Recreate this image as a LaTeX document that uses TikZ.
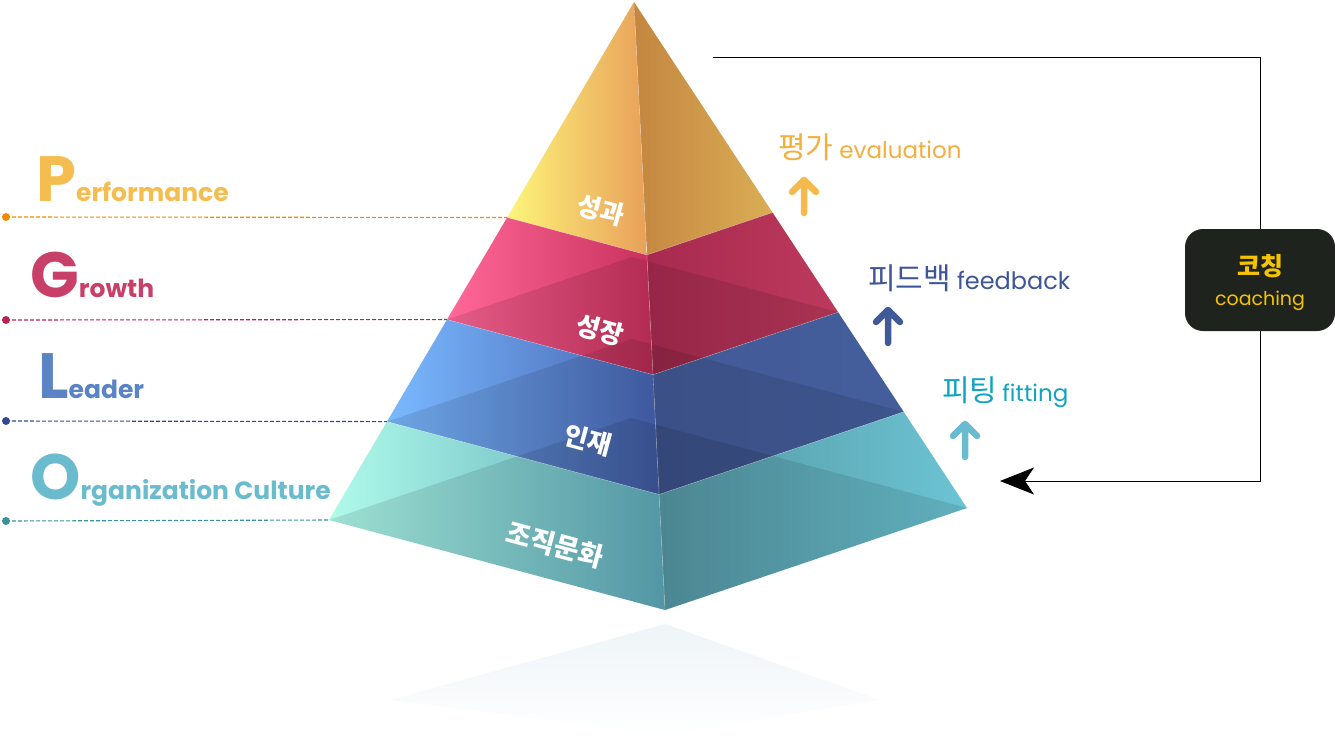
\documentclass[tikz,border=0pt]{standalone}
\usepackage{fontspec}
\setmainfont{Poppins}
\newfontfamily\kr{Noto Sans CJK KR}
\usetikzlibrary{arrows.meta,calc}
\definecolor{cP}{HTML}{F5BD4F}
\definecolor{cG}{HTML}{C8406A}
\definecolor{cL}{HTML}{5B84C4}
\definecolor{cO}{HTML}{6BBBCF}
\definecolor{dP}{HTML}{F08A00}
\definecolor{dG}{HTML}{B8244F}
\definecolor{dL}{HTML}{34488E}
\definecolor{dO}{HTML}{3A90A0}
\definecolor{tEval}{HTML}{F3AE3E}
\definecolor{aEval}{HTML}{F4BA4C}
\definecolor{tFeed}{HTML}{3E5596}
\definecolor{aFeed}{HTML}{3F5A96}
\definecolor{tFit}{HTML}{12A3C2}
\definecolor{aFit}{HTML}{6ABBCF}
\definecolor{boxbg}{HTML}{1F231E}
\definecolor{boxtx}{HTML}{F5C400}
\definecolor{y1}{HTML}{FDF57A}
\definecolor{y2}{HTML}{E8A05A}
\definecolor{y3}{HTML}{C48640}
\definecolor{y4}{HTML}{DAAE55}
\definecolor{p1}{HTML}{FF6898}
\definecolor{p2}{HTML}{C8305C}
\definecolor{p3}{HTML}{A82A50}
\definecolor{p4}{HTML}{BC3A5C}
\definecolor{b1}{HTML}{7ABAFF}
\definecolor{b2}{HTML}{4662B0}
\definecolor{b3}{HTML}{425A96}
\definecolor{b4}{HTML}{445E9C}
\definecolor{g1}{HTML}{B0FAEA}
\definecolor{g2}{HTML}{5CA8B8}
\definecolor{g3}{HTML}{5496A2}
\definecolor{g4}{HTML}{6CC4D4}
\definecolor{refl}{HTML}{EEF4F7}
\begin{document}
\begin{tikzpicture}[x=1pt,y=-1pt,
  dashline/.style={dash pattern=on 4pt off 2pt, line width=1.1pt},
  dotmark/.style={circle, inner sep=0pt, minimum size=8pt},
  uparrow/.style={line width=6.5pt, line cap=round, line join=round},
  layerlabel/.style={text=white, rotate=-15},
  darkface/.style={fill=black, fill opacity=0.1},
  biglabel/.style={anchor=base west, inner sep=0pt, font=\bfseries},
  rlabel/.style={anchor=base west, inner sep=0pt}]
\useasboundingbox (0,0) rectangle (1335,750);
% reflection
\shade[top color=refl, bottom color=white]
  (665,624) -- (880,700) -- (665,735) -- (390,700) -- cycle;
% pyramid geometry
\coordinate (A) at (634,2);
\coordinate (L4) at (329,520);
\coordinate (F4) at (665,610);
\coordinate (R4) at (967,508);
\coordinate (B4) at (631,418);
\foreach \k/\t in {1/0.416,2/0.613,3/0.81}{
  \coordinate (L\k) at ($(A)!\t!(L4)$);
  \coordinate (F\k) at ($(A)!\t!(F4)$);
  \coordinate (R\k) at ($(A)!\t!(R4)$);
  \coordinate (B\k) at ($(A)!\t!(B4)$);
}
% layer 1
\shade[left color=y1, right color=y2] (A) -- (L1) -- (F1) -- cycle;
\shade[left color=y3, right color=y4] (A) -- (F1) -- (R1) -- cycle;
% layer 2
\shade[left color=p1, right color=p2] (L1) -- (F1) -- (F2) -- (L2) -- cycle;
\shade[left color=p3, right color=p4] (F1) -- (R1) -- (R2) -- (F2) -- cycle;
% layer 3
\shade[left color=b1, right color=b2] (L2) -- (F2) -- (F3) -- (L3) -- cycle;
\shade[left color=b3, right color=b4] (F2) -- (R2) -- (R3) -- (F3) -- cycle;
% layer 4
\shade[left color=g1, right color=g2] (L3) -- (F3) -- (F4) -- (L4) -- cycle;
\shade[left color=g3, right color=g4] (F3) -- (R3) -- (R4) -- (F4) -- cycle;
% translucent bottom faces
\foreach \k in {2,3,4}{
  \fill[darkface] (L\k) -- (B\k) -- (R\k) -- (F\k) -- cycle;
}
\draw[white, opacity=0.3, line width=0.6pt] (L1) -- (F1) -- (R1) (L2) -- (F2) -- (R2) (L3) -- (F3) -- (R3) (A) -- (F4);
% layer labels
\node[layerlabel, font=\kr\bfseries\fontsize{26}{26}\selectfont] (n1) at (601,210) {성과};
\node[layerlabel, font=\kr\bfseries\fontsize{26}{26}\selectfont] (n2) at (600,330) {성장};
\node[layerlabel, font=\kr\bfseries\fontsize{26}{26}\selectfont] (n3) at (588,440) {인재};
\node[layerlabel, font=\kr\bfseries\fontsize{27}{27}\selectfont] (n4) at (555,545) {조직문화};
% left labels
\node[biglabel, text=cP] (lp) at (36,201) {\fontsize{64}{64}\selectfont P\fontsize{25}{25}\selectfont erformance};
\node[biglabel, text=cG] (lg) at (30,297) {\fontsize{64}{64}\selectfont G\fontsize{25}{25}\selectfont rowth};
\node[biglabel, text=cL] (ll) at (38,398) {\fontsize{64}{64}\selectfont L\fontsize{25}{25}\selectfont eader};
\node[biglabel, text=cO] (lo) at (30,499) {\fontsize{64}{64}\selectfont O\fontsize{25}{25}\selectfont rganization Culture};
% dots and dashed lines
\node[dotmark, fill=dP] (dp) at (6,217) {};
\node[dotmark, fill=dG] (dg) at (6,320) {};
\node[dotmark, fill=dL] (dl) at (6,421) {};
\node[dotmark, fill=dO] (do) at (6,521) {};
\draw[dashline, dP] (dp.center) -- (L1);
\draw[dashline, dG] (dg.center) -- (L2);
\draw[dashline, dL] (dl.center) -- (L3);
\draw[dashline, dO] (do.center) -- (L4);
% right labels
\node[rlabel, text=tEval] (ev) at (778,158) {{\kr\fontsize{30}{30}\selectfont 평가}\hspace{6pt}\fontsize{23}{23}\selectfont evaluation};
\node[rlabel, text=tFeed] (fb) at (868,289) {{\kr\fontsize{30}{30}\selectfont 피드백}\hspace{6pt}\fontsize{24}{24}\selectfont feedback};
\node[rlabel, text=tFit] (ft) at (942,401) {{\kr\fontsize{30}{30}\selectfont 피팅}\hspace{5pt}\fontsize{23}{23}\selectfont fitting};
% up arrows
\draw[uparrow, aEval] (804,213) -- (804,180) (792,192) -- (804,180) -- (816,192);
\draw[uparrow, aFeed] (888,343) -- (888,310) (876,322) -- (888,310) -- (900,322);
\draw[uparrow, aFit] (965,457) -- (965,424) (953,436) -- (965,424) -- (977,436);
% coaching box
\node[fill=boxbg, rounded corners=18pt, minimum width=150pt, minimum height=102pt, inner sep=0pt] (coach) at (1260,280) {};
\node[text=boxtx, font=\kr\bfseries\fontsize{25}{25}\selectfont] (coachk) at (1260,266) {코칭};
\node[text=boxtx, font=\fontsize{19}{19}\selectfont, anchor=base] (coache) at (1260,305) {coaching};
\coordinate (topstart) at (713,57);
\coordinate (arrowend) at (1000,481);
\draw[line width=0.9pt] (topstart) -| (coach.north);
\draw[line width=0.9pt, -{Stealth[length=34pt, width=27pt, inset=9pt]}] (coach.south) |- (arrowend);
\end{tikzpicture}
\end{document}
